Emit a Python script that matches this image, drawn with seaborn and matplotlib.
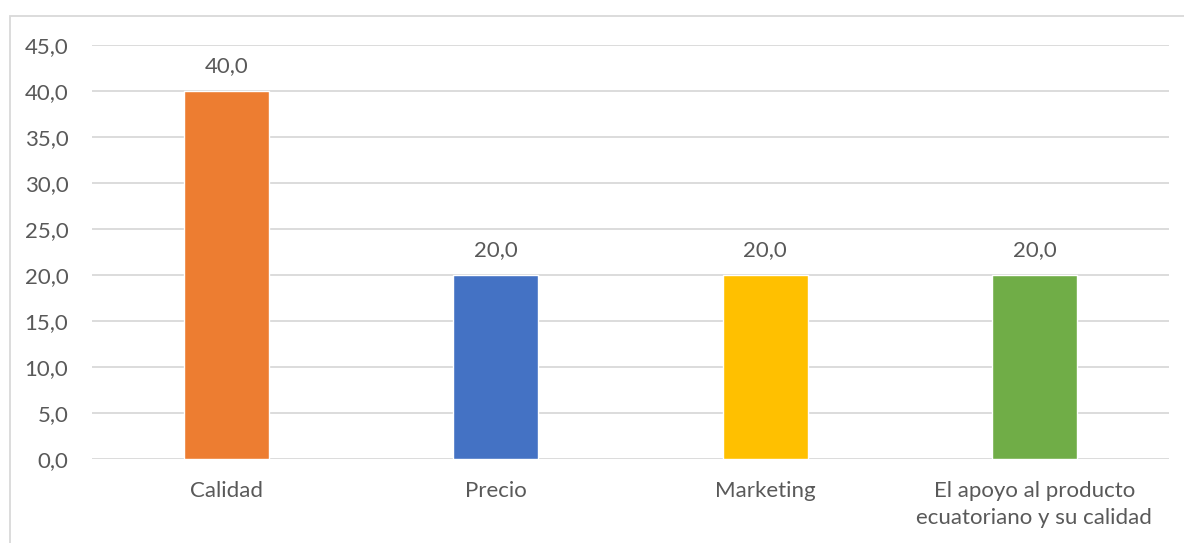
import matplotlib
matplotlib.use("Agg")
import matplotlib.pyplot as plt
import seaborn as sns
import pandas as pd
from matplotlib.patches import Rectangle

categories = ["Calidad", "Precio", "Marketing",
              "El apoyo al producto\necuatoriano y su calidad"]
values = [40.0, 20.0, 20.0, 20.0]
colors = ["#ED7D31", "#4472C4", "#FFC000", "#70AD47"]
yticks = [0, 5, 10, 15, 20, 25, 30, 35, 40, 45]

sns.set_theme(style="white")
plt.rcParams["font.family"] = ["Lato", "DejaVu Sans"]
text_color = "#595959"
fs = 16

df = pd.DataFrame({"cat": categories, "val": values})

fig = plt.figure(figsize=(11.84, 5.43), dpi=100)
ax = fig.add_axes([92 / 1184, 1 - 459 / 543, (1169 - 92) / 1184, (459 - 45) / 543])

sns.barplot(data=df, x="cat", y="val", hue="cat", palette=colors,
            legend=False, width=0.316, ax=ax, saturation=1)

ax.set_ylim(0, 45)
ax.set_xlim(-0.5, len(categories) - 0.5)
ax.set_yticks(yticks)
ax.set_yticklabels([f"{v:.1f}".replace(".", ",") for v in yticks])
ax.yaxis.grid(True, color="#D9D9D9", linewidth=1.3)
ax.set_axisbelow(True)
for s in ax.spines.values():
    s.set_visible(False)
ax.set_xlabel("")
ax.set_ylabel("")
ax.tick_params(axis="both", length=0, labelsize=fs, colors=text_color)
ax.tick_params(axis="y", pad=17)
ax.tick_params(axis="x", pad=16)
for lbl in ax.get_xticklabels():
    lbl.set_linespacing(1.45)

for i, v in enumerate(values):
    ax.annotate(f"{v:.1f}".replace(".", ","), (i, v), xytext=(0, 11),
                textcoords="offset points", ha="center", va="bottom",
                fontsize=fs, color=text_color)

# chart frame
fig.patches.append(Rectangle((10 / 1184, -0.1), 1.2, 1 - 16 / 543 + 0.1,
                             transform=fig.transFigure, fill=False,
                             edgecolor="#D9D9D9", linewidth=1.3))

fig.savefig("out.png", dpi=100, facecolor="white")
